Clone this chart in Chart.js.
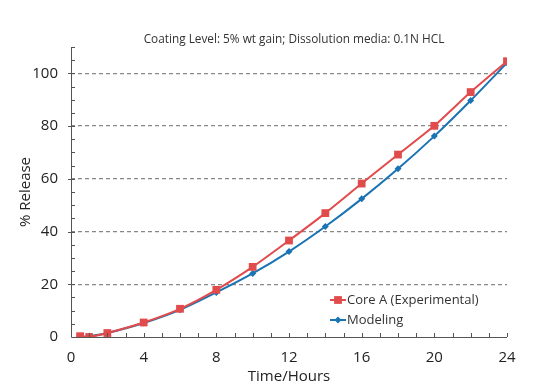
<!DOCTYPE html>
<html>
<head>
<meta charset="utf-8">
<script src="https://cdn.jsdelivr.net/npm/chart.js@4.4.1/dist/chart.umd.min.js"></script>
<style>
  body { margin: 0; background: #fff; }
  #wrap { width: 550px; height: 392px; }
</style>
</head>
<body>
<div id="wrap"><canvas id="myChart"></canvas></div>
<script>
var hours = [0.5, 1, 2, 4, 6, 8, 10, 12, 14, 16, 18, 20, 22, 24];
var coreA = [0.3, 0, 1.5, 5.5, 10.7, 17.9, 26.6, 36.6, 47, 58.2, 69.2, 80.1, 92.9, 104.6];
var modeling = [0, 0.3, 1.5, 5.3, 10.3, 16.9, 24.1, 32.4, 41.9, 52.4, 63.8, 76.2, 89.7, 104];
var xTickLabels = [0, 4, 8, 12, 16, 20, 24];
var yTickLabels = [0, 20, 40, 60, 80, 100];
var chartTitle = "Coating Level: 5% wt gain; Dissolution media: 0.1N HCL";

var red = "#e14b4b";
var blue = "#1a73b3";
var axisColor = "#555";
var font = "'Open Sans', 'Noto Sans', sans-serif";

function toPoints(xs, ys) {
    return xs.map(function (x, i) { return { x: x, y: ys[i] }; });
}

// title over the plot, small inward tick marks, axis lines, legend in the lower right
var extras = {
    id: 'extras',
    afterDraw: function (chart) {
        var ctx = chart.ctx;
        var a = chart.chartArea;
        var xs = chart.scales.x, ys = chart.scales.y;
        ctx.save();
        ctx.fillStyle = "#333";
        ctx.font = "11.8px " + font;
        ctx.textAlign = "center";
        ctx.textBaseline = "middle";
        ctx.fillText(chartTitle, 294, 40);

        ctx.strokeStyle = axisColor;
        ctx.lineWidth = 1;
        ctx.beginPath();
        ctx.moveTo(a.left + 0.5, a.top);
        ctx.lineTo(a.left + 0.5, a.bottom + 0.5);
        ctx.lineTo(a.right, a.bottom + 0.5);
        for (var v = 1; v <= 24; v++) {
            var px = Math.round(xs.getPixelForValue(v)) + 0.5;
            ctx.moveTo(px, a.bottom);
            ctx.lineTo(px, a.bottom - 4);
        }
        for (var w = 5; w <= 110; w += 5) {
            var py = Math.round(ys.getPixelForValue(w)) + 0.5;
            ctx.moveTo(w % 20 === 0 ? a.left - 3 : a.left, py);
            ctx.lineTo(a.left + 4, py);
        }
        ctx.stroke();

        var items = [
            { label: "Core A (Experimental)", color: red, style: 'rect', r: 5.5, y: 300 },
            { label: "Modeling", color: blue, style: 'rectRot', r: 3.5, y: 320 }
        ];
        items.forEach(function (it) {
            ctx.strokeStyle = it.color;
            ctx.lineWidth = 2;
            ctx.beginPath();
            ctx.moveTo(330, it.y);
            ctx.lineTo(346, it.y);
            ctx.stroke();
            ctx.fillStyle = it.color;
            Chart.helpers.drawPoint(ctx, { pointStyle: it.style, radius: it.r, borderWidth: 0 }, 338, it.y);
            ctx.fillStyle = "#333";
            ctx.font = "13px " + font;
            ctx.textBaseline = "middle";
            ctx.textAlign = "left";
            ctx.fillText(it.label, 347, it.y);
        });
        ctx.restore();
    }
};

new Chart("myChart", {
    type: "line",
    data: {
        datasets: [{
            label: "Core A (Experimental)",
            data: toPoints(hours, coreA),
            borderColor: red,
            backgroundColor: red,
            borderWidth: 2,
            pointStyle: 'rect',
            pointRadius: 5.5,
            pointBorderWidth: 0,
            tension: 0.2,
            fill: false
        }, {
            label: "Modeling",
            data: toPoints(hours, modeling),
            borderColor: blue,
            backgroundColor: blue,
            borderWidth: 2,
            pointStyle: 'rectRot',
            pointRadius: 3.5,
            pointBorderWidth: 0,
            tension: 0.2,
            fill: false
        }]
    },
    options: {
        responsive: true,
        maintainAspectRatio: false,
        animation: false,
        layout: { padding: { left: 0, right: 43, top: 47, bottom: 0 } },
        plugins: {
            legend: { display: false },
            tooltip: { enabled: false }
        },
        scales: {
            x: {
                type: 'linear',
                min: 0,
                max: 24,
                border: { display: false },
                grid: { display: false },
                afterBuildTicks: function (s) {
                    s.ticks = xTickLabels.map(function (v) { return { value: v }; });
                },
                afterFit: function (s) { s.height = 55; },
                ticks: {
                    color: "#222",
                    padding: 4,
                    maxRotation: 0,
                    font: { family: font, size: 15 }
                },
                title: {
                    display: true,
                    text: "Time/Hours",
                    color: "#222",
                    font: { family: font, size: 15 },
                    padding: { top: 0, bottom: 6 }
                }
            },
            y: {
                min: 0,
                max: 110,
                border: { display: false, dash: [4, 3] },
                afterBuildTicks: function (s) {
                    s.ticks = yTickLabels.map(function (v) { return { value: v }; });
                },
                afterFit: function (s) { s.width = 71; },
                grid: {
                    drawTicks: false,
                    color: function (c) { return c.tick.value === 0 ? 'rgba(0,0,0,0)' : '#888'; },
                    lineWidth: 1.2
                },
                ticks: {
                    color: "#222",
                    padding: 13,
                    font: { family: font, size: 15 }
                },
                title: {
                    display: true,
                    text: "% Release",
                    color: "#222",
                    font: { family: font, size: 15 },
                    padding: { top: 17, bottom: 0 }
                }
            }
        }
    },
    plugins: [extras]
});
</script>
</body>
</html>
